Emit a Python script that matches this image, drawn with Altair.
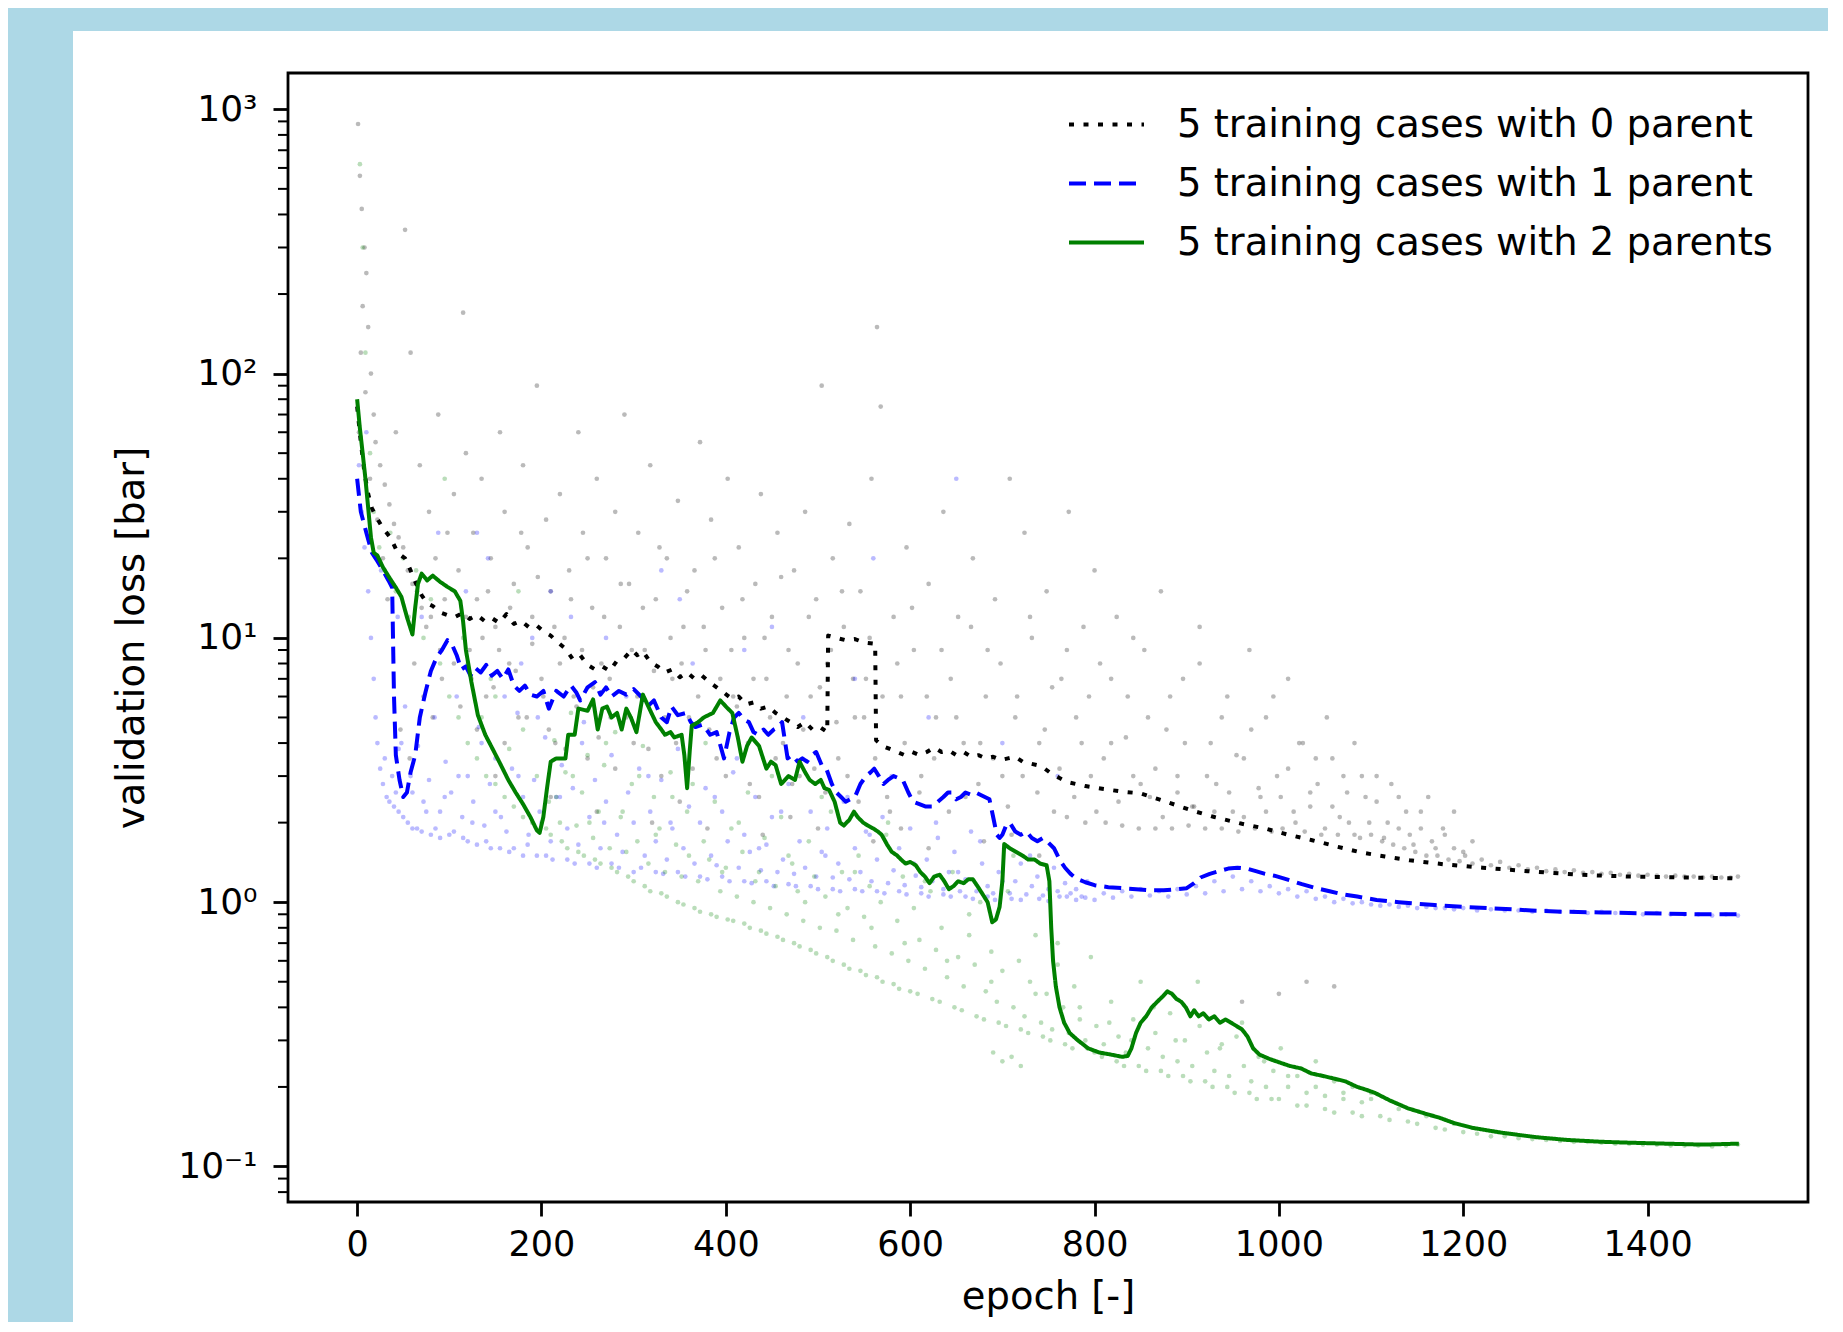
import altair as alt
import pandas as pd

S0 = "5 training cases with 0 parent"
S1 = "5 training cases with 1 parent"
S2 = "5 training cases with 2 parents"
SERIES = [S0, S1, S2]
LINE_COLORS = ["#000000", "#0000ff", "#008000"]
POINT_COLORS = ["#000000", "#0000ff", "#008000"]

X_TICKS = [0, 200, 400, 600, 800, 1000, 1200, 1400]
Y_TICKS = [0.1, 1, 10, 100, 1000]
Y_MINOR = [0.08, 0.09, 0.2, 0.3, 0.4, 0.5, 0.6, 0.7, 0.8, 0.9,
           2, 3, 4, 5, 6, 7, 8, 9, 20, 30, 40, 50, 60, 70, 80, 90,
           200, 300, 400, 500, 600, 700, 800, 900]

# ---- mean curves (epoch, validation loss) ----
line0 = [(0,75),(4,55),(8,42),(12,35),(16,31),(20,29),(28,26),(36,24),(44,21),(52,20),(58,18),(64,16),
(70,14.5),(76,13.5),(82,13.2),(90,12.5),(98,12.2),(106,12.0),(114,12.4),(122,11.8),(130,12.2),(138,11.6),
(146,11.9),(154,11.4),(162,12.3),(170,11.3),(178,11.6),(186,11.0),(194,11.2),(202,10.6),(210,10.2),(218,9.6),
(226,9.1),(234,8.3),(242,8.6),(250,7.9),(258,7.6),(266,7.8),(274,7.5),(282,8.2),(290,8.4),(298,9.0),(304,8.6),
(310,8.9),(318,8.1),(326,7.8),(334,7.4),(342,7.6),(350,7.1),(358,7.4),(366,7.0),(374,7.2),(382,6.8),(390,6.5),
(398,6.2),(406,5.9),(414,6.0),(422,5.6),(430,5.7),(438,5.4),(446,5.5),(454,5.2),(462,5.0),(470,4.8),(478,4.6),
(486,4.8),(494,4.5),(502,4.6),(510,4.4),(511,10.2),(520,10.0),(530,9.8),(540,9.9),(550,9.6),(562,9.5),(563,4.1),
(570,3.9),(578,3.8),(586,3.7),(594,3.6),(602,3.7),(610,3.6),(618,3.7),(626,3.85),(634,3.7),(642,3.75),(650,3.6),
(658,3.7),(666,3.55),(674,3.6),(682,3.5),(690,3.55),(698,3.45),(706,3.5),(714,3.55),(722,3.4),(730,3.35),
(738,3.3),(746,3.2),(754,3.05),(762,2.95),(770,2.85),(790,2.75),(810,2.68),(830,2.62),(850,2.58),(870,2.45),
(890,2.32),(906,2.22),(930,2.1),(960,1.98),(985,1.9),(1010,1.8),(1035,1.72),(1064,1.62),(1090,1.54),
(1115,1.49),(1142,1.44),(1180,1.39),(1221,1.35),(1270,1.31),(1326,1.27),(1380,1.25),(1440,1.24),(1499,1.23)]

line1 = [(0,40),(4,30),(10,25),(16,21),(22,19.5),(28,18),(34,16.5),(38,15.5),(40,6),(42,3.6),(46,2.9),(50,2.5),
(54,2.6),(58,3.1),(63,3.6),(68,5.0),(74,6.2),(80,7.5),(86,8.4),(92,9.0),(98,9.8),(102,9.6),(108,8.6),(113,7.6),
(118,7.8),(123,7.2),(128,7.7),(134,7.4),(140,7.9),(146,7.2),(152,7.5),(158,7.0),(164,7.6),(170,6.6),(176,6.3),
(182,6.6),(188,6.1),(195,6.0),(202,6.3),(208,5.4),(216,6.3),(224,6.0),(232,6.6),(238,6.2),(242,5.8),(250,6.5),
(258,6.8),(264,6.1),(270,6.5),(276,6.0),(284,6.3),(292,6.1),(300,6.4),(308,6.0),(315,5.5),(322,5.8),(330,5.0),
(336,4.8),(341,5.5),(348,5.1),(357,5.2),(362,4.8),(367,4.6),(375,4.7),(383,4.3),(390,4.4),(398,3.5),(404,4.4),
(409,5.0),(414,5.2),(420,4.9),(425,4.8),(430,4.4),(435,4.3),(441,4.5),(446,4.3),(452,4.5),(457,4.6),(461,4.8),
(467,3.5),(472,3.6),(478,3.4),(483,3.5),(488,3.4),(493,3.6),(498,3.7),(504,3.3),(509,3.2),(515,2.8),(520,2.6),
(525,2.5),(530,2.4),(535,2.45),(540,2.5),(546,2.8),(552,3.0),(557,3.1),(561,3.2),(566,3.0),(571,2.8),(576,2.9),
(582,3.0),(587,2.95),(592,2.9),(598,2.6),(603,2.4),(610,2.35),(617,2.3),(624,2.3),(630,2.4),(636,2.5),(641,2.6),
(645,2.6),(650,2.45),(655,2.5),(660,2.6),(666,2.55),(671,2.6),(676,2.55),(681,2.5),(686,2.45),(690,2.1),
(694,1.8),(697,1.75),(700,1.8),(704,1.95),(708,2.0),(714,1.85),(720,1.8),(726,1.85),(732,1.75),(738,1.7),
(744,1.75),(750,1.68),(756,1.6),(762,1.45),(768,1.35),(774,1.28),(780,1.23),(790,1.19),(800,1.16),(815,1.14),
(830,1.13),(845,1.12),(860,1.11),(875,1.11),(890,1.12),(900,1.13),(908,1.18),(915,1.24),(925,1.28),(935,1.31),
(945,1.34),(955,1.35),(965,1.34),(975,1.31),(985,1.28),(995,1.26),(1005,1.23),(1015,1.2),(1025,1.17),
(1040,1.13),(1055,1.1),(1070,1.07),(1085,1.05),(1106,1.02),(1130,1.0),(1169,0.975),(1200,0.96),(1240,0.945),
(1274,0.93),(1310,0.92),(1350,0.915),(1380,0.91),(1420,0.905),(1460,0.9),(1499,0.9)]

line2 = [(0,80),(3,62),(6,50),(9,40),(12,31),(15,24),(18,21),(22,20.5),(28,18.5),(35,16.9),(42,15.5),(48,14.3),
(54,12),(60,10.3),(63,13),(66,16),(70,17.5),(76,16.5),(82,17.2),(90,16.3),(98,15.6),(106,15.0),(112,13.8),
(115,11.5),(118,9.0),(124,6.8),(131,5.1),(139,4.3),(147,3.8),(156,3.3),(164,2.9),(172,2.6),(180,2.35),(188,2.1),
(195,1.87),(198,1.83),(202,2.1),(206,2.7),(210,3.4),(216,3.5),(226,3.5),(229,4.3),(236,4.3),(240,5.4),(250,5.3),
(256,5.85),(261,4.5),(266,5.4),(271,5.5),(276,5.0),(282,5.2),(287,4.5),(292,5.4),(297,5.0),(303,4.4),(310,6.1),
(317,5.4),(324,4.8),(330,4.5),(334,4.3),(340,4.4),(344,4.2),(352,4.3),(355,3.6),(358,2.7),(361,3.8),(363,4.65),
(370,4.8),(376,5.0),(386,5.2),(394,5.8),(400,5.5),(407,5.2),(413,4.2),(418,3.4),(423,3.9),(428,4.2),(436,3.9),
(444,3.2),(449,3.4),(454,3.3),(460,2.8),(468,3.0),(475,2.9),(480,3.4),(486,3.1),(491,2.9),(497,2.8),(503,2.9),
(507,2.7),(512,2.66),(518,2.4),(524,2.0),(528,1.95),(534,2.05),(539,2.2),(543,2.1),(549,2.0),(554,1.95),
(560,1.9),(565,1.85),(569,1.8),(575,1.65),(580,1.55),(586,1.5),(590,1.45),(595,1.4),(600,1.42),(606,1.38),
(611,1.3),(616,1.25),(621,1.18),(626,1.25),(632,1.27),(637,1.2),(642,1.12),(647,1.15),(652,1.2),(658,1.18),
(663,1.22),(668,1.22),(673,1.15),(678,1.08),(684,1.0),(689,0.84),(693,0.86),(697,0.96),(700,1.2),(702,1.66),
(708,1.6),(715,1.55),(722,1.5),(728,1.45),(735,1.45),(741,1.4),(748,1.38),(751,1.2),(753,0.8),(755,0.6),
(758,0.48),(762,0.4),(767,0.35),(773,0.32),(782,0.3),(793,0.28),(805,0.27),(818,0.265),(830,0.26),(836,0.262),
(840,0.28),(845,0.32),(850,0.35),(856,0.37),(862,0.4),(868,0.42),(874,0.44),(879,0.46),(884,0.45),(889,0.43),
(894,0.42),(899,0.4),(904,0.37),(908,0.39),(913,0.37),(918,0.38),(924,0.36),(930,0.37),(936,0.35),(942,0.36),
(948,0.35),(954,0.34),(960,0.33),(966,0.31),(972,0.28),(979,0.265),(990,0.255),(1000,0.248),(1012,0.24),
(1024,0.235),(1035,0.225),(1048,0.22),(1060,0.215),(1072,0.21),(1085,0.2),(1095,0.195),(1104,0.19),
(1120,0.178),(1140,0.166),(1160,0.158),(1174,0.153),(1190,0.146),(1210,0.14),(1243,0.134),(1280,0.129),
(1313,0.126),(1350,0.124),(1382,0.123),(1420,0.122),(1460,0.121),(1499,0.122)]

# ---- individual training-case losses (epoch, validation loss) ----
pts0 = [(1,880),(3,560),(5,420),(8,300),(10,240),(6,180),(12,150),(4,120),(15,100),(9,85),(18,70),(2,60),(20,55),
(25,45),(14,40),(30,38),(35,32),(22,28),(40,27),(45,24),(28,20),(50,22),(55,18),(60,16),(33,14),(65,15),(70,13),
(75,11),(80,12),(85,20),(90,9),(95,14),(42,60),(52,350),(58,120),(68,45),(78,30),(88,70),(98,25),(62,8),(72,6),
(82,5),(92,7),(47,4.5),(57,3.5),
(105,35),(110,18),(115,170),(118,50),(122,9),(126,25),(130,14),(135,40),(140,6),(145,20),(150,11),(155,60),
(160,30),(165,8),(170,16),(175,5),(180,45),(185,22),(190,12),(195,90),(200,7),(205,28),(210,15),(215,4),(220,35),
(225,10),(230,18),(235,6),(240,60),(245,25),(250,3.5),(255,13),(260,40),(265,8),(270,20),(275,5),(280,30),
(285,11),(290,70),(295,16),
(300,4),(305,25),(312,9),(318,45),(324,14),(330,3),(336,20),(342,7),(348,33),(354,11),(360,5),(366,18),(372,55),
(378,9),(384,28),(390,3.5),(396,13),(402,40),(408,6),(414,22),(420,10),(426,2.8),(432,16),(438,35),(444,7),
(450,12),(456,25),(462,4),(468,9),(474,18),(480,3),(486,30),(492,6),(498,14),(504,90),(510,8),(516,20),
(522,3.5),(528,11),(534,27),(540,5),(546,15),(552,7),(558,40),(564,150),(568,75),(575,2.5),(582,12),(590,6),
(596,22),
(604,9),(612,3),(620,16),(628,5),(636,30),(644,7),(652,12),(660,2.5),(668,20),(676,4),(684,9),(692,14),(700,3),
(708,40),(716,6),(724,25),(732,10),(740,4),(748,15),(756,2.2),(764,7),(772,30),(780,5),(788,11),(796,3),
(800,18),(790,2.0),(770,2.1),
(806,8),(812,2.0),(818,4),(824,12),(830,1.95),(836,6),(842,3),(848,1.9),(854,9),(860,2.5),(866,1.9),(872,15),
(878,4.5),(884,1.9),(890,3),(896,7),(902,1.95),(908,2.3),(914,11),(920,1.9),(926,4),(932,2.8),(938,1.9),(944,6),
(950,2.2),(956,1.85),(962,3.5),(968,9),(974,1.9),(980,2.5),(986,5),(992,1.85),(998,3),(1004,1.9),(1010,7),
(1016,2.2),(1022,4),(1028,1.85),(1034,2.6),(1040,3.5),(1046,1.8),(1052,5),(1058,2.3),(1064,1.8),(1070,3),
(1076,2),(1082,4),(1088,1.75),(1094,2.5),(1100,1.8),(1000,0.45),(1030,0.5),(960,0.42),(1060,0.48),
(1106,3),(1112,1.7),(1118,2),(1124,1.65),(1130,2.5),(1136,1.6),(1142,1.8),(1148,1.55),(1154,2.2),(1160,1.5),
(1166,1.7),(1172,1.5),(1178,1.9),(1184,1.45),(1190,1.6),(1196,1.43),(1202,1.5),(1210,1.4),(1220,1.45),
(1230,1.38),(1240,1.42),(1250,1.35),(1260,1.38),(1270,1.33),(1280,1.35),(1290,1.31),(1300,1.33),(1310,1.3),
(1320,1.32),(1330,1.29),(1340,1.3),(1350,1.28),(1360,1.29),(1370,1.27),(1380,1.28),(1390,1.26),(1400,1.27),
(1410,1.26),(1420,1.25),(1430,1.26),(1440,1.25),(1450,1.25),(1460,1.24),(1470,1.25),(1480,1.24),(1490,1.24),
(1498,1.25),
(105,8),(112,5.5),(118,12),(124,7),(130,4.5),(136,10),(142,15),(148,6.5),(154,9),(160,4),(166,13),(172,7.5),
(178,25),(184,5),(190,9.5),(196,17),(202,6),(208,4.5),(214,11),(220,8),(226,3.8),(232,14),(238,5.5),(244,9),
(250,20),(256,6.5),(262,4.2),(268,12),(274,7),(280,3.2),(286,16),(292,5),(298,9),(304,6),(310,13),(316,3.8),
(322,7.5),(328,22),(334,5),(340,10),(346,4),(352,8),(358,15),(364,3.2),(370,6),(376,11),(382,4.5),(388,20),
(394,7),(400,3),(406,9),(412,5.5),(418,14),(424,4),(430,7),(436,2.5),(442,10),(448,5),(454,3.5),(460,17),
(466,6),(472,2.8),(478,8),(484,4.5),(490,12),(496,3.2),(502,6.5),(508,2.6),(514,9),(520,4.8),(526,15),(532,3),
(538,7),(544,2.4),(550,5),(556,10),(562,3.5),(570,6),(578,2.2),(586,8),(594,4),(602,13),(610,2.6),(618,6),
(626,3.5),(634,9),(642,2.2),(650,5),(658,4),(666,11),(674,2.8),(682,6),(690,3.5),(698,8),(706,2.3),(714,5),
(722,3),(730,12),(738,2.6),(746,4.5),(754,6.5),(762,3.2),(770,9),(778,2.5),(786,4),(794,6),(802,2.2),(810,3.5),
(818,7),(826,2.4),(834,4.2),(842,10),(850,2.8),(858,5),(866,3.2),(874,2.1),(882,6),(890,2.6),(898,4),(906,2.3),
(914,8),(922,3),(930,2.2),(938,5),(946,2.6),(954,3.6),(962,2.1),(970,4.5),(978,2.7),(986,2.2),(994,6),(1002,2.5),
(1010,3.2),(1018,2.0),(1026,4),(1034,2.3),(1042,2.8),(1050,1.9),(1058,3.5),(1066,2.1),(1074,2.6),(1082,1.8),
(1090,3),(1098,2.0),(1106,2.4),(1114,1.75),(1122,2.8),(1130,1.9),(1138,2.2),(1146,1.65),(1154,1.9),(1162,2.5),
(1170,1.6),(1180,1.8),(1190,2.2),(1200,1.55),(1210,1.7),
(150,3),(210,2.5),(260,2.2),(320,2.0),(350,2.4),(380,1.9),(440,1.8),(470,2.1),(500,1.9),(560,1.7),(590,1.9),
(620,1.6),(680,1.7),(710,1.8),(740,1.5)]

pts1 = [(2,45),(5,30),(8,22),(12,15),(15,10),(18,7),(20,5),(22,4),(25,3.2),(28,2.8),(30,3.5),(32,2.5),(35,2.4),
(38,3),(40,2.3),(42,2.6),(45,2.2),(48,4),(50,2.1),(55,2.0),(58,3),(60,1.9),(10,60),(26,18),(44,12),
(65,1.9),(70,1.85),(75,2.2),(80,1.8),(85,1.9),(90,1.75),(95,2.5),(100,1.8),(105,1.85),(110,3),(115,1.75),
(120,1.7),(125,2),(130,1.65),(135,4),(140,1.7),(145,1.6),(150,2.2),(155,1.6),(160,6),(165,1.55),(170,1.6),
(175,3),(180,1.5),(185,1.65),(190,10),(195,1.5),(200,2),(88,25),(118,15),(142,20),(178,8),(196,5),
(205,1.5),(212,1.45),(220,2.5),(228,1.45),(236,1.4),(244,4),(252,1.4),(260,1.35),(268,2),(276,1.4),(284,1.35),
(292,6),(300,1.3),(308,1.35),(316,3),(324,1.3),(332,1.28),(340,2),(348,1.3),(356,1.25),(364,8),(372,1.25),
(380,1.22),(388,2.5),(396,1.25),(404,1.2),(412,3.5),(420,1.2),(428,1.18),(436,1.6),(444,1.2),(452,1.15),
(460,2.2),(468,1.17),(476,1.15),(484,5),(492,1.15),(500,1.12),(232,12),(330,18),(420,9),
(508,1.5),(516,1.12),(524,1.1),(532,2.5),(540,1.12),(548,1.1),(556,1.8),(564,1.1),(572,1.08),(580,3),(588,1.1),
(596,1.07),(604,1.4),(612,1.08),(620,1.05),(628,2),(636,1.07),(644,1.05),(652,1.3),(660,1.05),(668,1.03),
(676,1.7),(684,1.05),(692,1.02),(700,1.2),(710,1.03),(720,1.02),(730,1.5),(740,1.03),(750,1.01),(760,1.1),
(770,1.05),(780,1.02),(790,1.04),(800,1.02),(650,40),(560,20),
(810,1.08),(820,1.04),(830,1.1),(840,1.05),(850,1.12),(860,1.06),(870,1.1),(880,1.05),(890,1.12),(900,1.07),
(910,1.15),(920,1.08),(930,1.2),(940,1.1),(950,1.25),(960,1.12),(970,1.2),(980,1.1),(990,1.15),(1000,1.08),
(1010,1.12),(1020,1.05),(1030,1.1),(1040,1.03),(1050,1.05),(1060,1.0),(1070,1.03),(1080,0.99),(1090,1.0),
(1100,0.98),
(1110,0.97),(1120,0.98),(1130,0.96),(1140,0.97),(1150,0.95),(1160,0.96),(1170,0.95),(1180,0.95),(1190,0.94),
(1200,0.95),(1215,0.93),(1230,0.94),(1245,0.93),(1260,0.93),(1275,0.92),(1290,0.93),(1305,0.92),(1320,0.92),
(1335,0.91),(1350,0.92),(1365,0.91),(1380,0.91),(1395,0.9),(1410,0.91),(1425,0.9),(1440,0.9),(1455,0.9),
(1470,0.89),(1485,0.9),(1498,0.89),
(45,3.8),(52,5.5),(60,2.6),(66,3.9),(72,2.4),(78,2.9),(84,5.0),(90,2.2),(96,3.4),(102,2.6),(108,6.0),(114,2.1),
(120,3.0),(126,2.4),(132,4.6),(138,1.95),(144,2.8),(150,3.5),(156,2.1),(162,1.85),(168,3.2),(174,5.2),(180,2.5),
(186,1.8),(192,2.9),(198,2.2),(204,4.2),(210,1.7),(216,2.5),(222,3.3),(228,1.9),(234,2.7),(240,1.65),(246,4.8),
(252,2.1),(258,2.9),(264,1.6),(270,2.4),(276,3.6),(282,1.8),(288,1.55),(294,2.6),(300,2.0),(306,3.2),(312,1.5),
(318,2.2),(324,1.7),(330,2.9),(336,1.45),(342,1.9),(348,3.8),(354,1.6),(360,2.3),(366,1.4),(372,2.0),(378,2.7),
(384,1.5),(390,1.38),(396,2.2),(402,1.7),(408,3.1),(414,1.35),(420,1.8),(426,1.55),(432,2.5),(438,1.32),
(444,1.65),(450,2.1),(456,1.3),(462,1.45),(468,2.8),(474,1.28),(480,1.7),(486,1.35),(492,2.2),(498,1.25),
(504,1.55),(510,1.9),(516,1.24),(522,1.4),(528,2.4),(534,1.22),(540,1.6),(546,1.3),(552,1.85),(558,1.2),
(564,1.45),(570,2.1),(576,1.18),(582,1.32),(588,1.6),(594,1.16),(600,1.9),(606,1.26),(612,1.14),(618,1.45),
(624,1.2),(630,1.75),(636,1.12),(642,1.3),(648,1.55),(654,1.1),(660,1.22),(666,1.85),(672,1.1),(678,1.4),
(684,1.15),(690,1.08),(696,1.3),(702,1.6),(708,1.08),(714,1.2),(720,1.4),(726,1.07),(732,1.15),(738,1.25),
(744,1.06),(750,1.12),(756,1.35),(762,1.05),(768,1.18),(774,1.08),(780,1.12),(786,1.05),(792,1.2),
(70,12),(130,25),(210,15),(270,10),(350,14),(450,11),(540,7),(620,5),(700,4),(760,3)]

pts2 = [(3,620),(6,300),(9,120),(14,50),(18,30),(24,22),(30,18),(36,25),(42,15),(50,20),(56,12),(64,18),(72,10),
(80,14),(90,8),(100,6),(110,5),(120,4),(130,3.5),(140,3),(150,2.8),(160,2.5),(170,2.3),(180,2.1),(190,2),
(115,10),(145,7),(175,15),(95,40),
(205,1.9),(210,1.8),(216,2.5),(222,1.7),(228,1.6),(234,3),(240,1.55),(246,1.5),(252,2),(258,1.45),(264,1.4),
(270,4),(276,1.35),(282,1.3),(288,2.2),(294,1.25),(300,1.2),(306,3),(312,1.15),(318,1.1),(324,1.8),(330,1.08),
(336,1.05),(342,2.5),(348,1.0),(354,0.98),(360,1.5),(366,0.95),(372,0.92),(378,4),(384,0.9),(390,0.88),
(396,1.3),
(402,0.86),(408,0.85),(414,2),(420,0.83),(426,0.8),(432,1.2),(438,0.78),(444,0.76),(450,3),(456,0.74),
(462,0.72),(468,1.5),(474,0.7),(480,0.68),(486,1),(492,0.66),(498,0.64),(504,2.5),(510,0.62),(516,0.6),
(522,0.9),(528,0.58),(534,0.56),(540,1.3),(546,0.55),(552,0.53),(558,0.8),(564,0.52),(570,0.5),(576,2),
(582,0.49),(588,0.47),(594,0.7),
(600,0.46),(608,0.45),(616,1.2),(624,0.43),(632,0.42),(640,0.6),(648,0.4),(656,0.39),(664,0.9),(672,0.37),
(680,0.36),(688,0.5),(696,0.35),(704,0.34),(712,1.5),(720,0.33),(728,0.32),(736,0.45),(744,0.31),(752,0.3),
(760,0.7),(768,0.29),(776,0.28),(784,0.4),(792,0.28),(800,0.27),(690,0.27),(700,0.25),(710,0.26),(720,0.24),
(808,0.26),(816,0.35),(824,0.25),(832,0.24),(840,0.3),(848,0.24),(856,0.23),(864,0.4),(872,0.23),(880,0.22),
(888,0.3),(896,0.22),(904,0.21),(912,0.5),(920,0.21),(928,0.2),(936,0.28),(944,0.2),(952,0.19),(960,0.35),
(968,0.19),(976,0.18),(984,0.25),(992,0.18),(1000,0.18),(1010,0.22),(1020,0.17),(1030,0.17),(1040,0.2),
(1050,0.165),(1060,0.16),(1070,0.19),(1080,0.16),(1090,0.155),(1100,0.18),
(1110,0.155),(1120,0.15),(1130,0.165),(1140,0.148),(1150,0.145),(1160,0.155),(1170,0.14),(1180,0.138),
(1190,0.145),(1200,0.135),(1215,0.133),(1230,0.13),(1245,0.13),(1260,0.128),(1275,0.127),(1290,0.126),
(1305,0.125),(1320,0.124),(1335,0.124),(1350,0.123),(1365,0.122),(1380,0.122),(1395,0.121),(1410,0.121),
(1425,0.12),(1440,0.12),(1455,0.12),(1470,0.119),(1485,0.12),(1498,0.121),
(120,8),(135,5),(150,6),(165,3.8),(180,4.5),(195,3.0),(208,2.4),(214,4.1),(220,2.0),(226,3.1),(232,5.2),
(238,1.95),(244,2.6),(250,3.6),(256,1.75),(262,2.2),(268,3.3),(274,1.6),(280,4.4),(286,2.1),(292,1.55),(298,2.8),
(304,1.7),(310,3.9),(316,1.4),(322,2.5),(328,1.9),(334,1.3),(340,3.1),(346,1.65),(352,1.25),(358,2.2),(364,2.8),
(370,1.2),(376,1.7),(382,1.45),(388,2.4),(394,1.1),(400,1.35),(406,1.9),(412,1.05),(418,1.55),(424,2.6),
(430,1.0),(436,1.3),(442,1.75),(448,0.95),(454,1.15),(460,2.1),(466,0.9),(472,1.4),(478,1.1),(484,0.85),
(490,1.7),(496,1.25),(502,0.8),(508,1.05),(514,2.2),(520,0.78),(526,1.3),(532,0.95),(538,0.72),(544,1.5),
(550,0.88),(556,1.15),(562,0.68),(568,1.0),(574,1.8),(580,0.64),(586,0.85),(592,1.25),(598,0.6),(604,0.95),
(610,0.72),(616,0.56),(622,1.1),(628,0.66),(634,0.8),(640,0.52),(646,1.3),(652,0.62),(658,0.48),(664,0.75),
(670,0.58),(676,1.0),(682,0.46),(688,0.65),(694,0.42),(700,0.55),(706,1.1),(712,0.4),(718,0.6),(724,0.37),
(730,0.5),(736,0.75),(742,0.35),(748,0.45),(754,0.33),(760,0.58),(766,0.4),(772,0.32),(778,0.48),(784,0.36),
(790,0.3),(796,0.62),(802,0.34),(810,0.29),(818,0.42),(826,0.31),(834,0.27),(842,0.36),(850,0.5),(858,0.28),
(866,0.32),(874,0.26),(882,0.38),(890,0.25),(898,0.3),(906,0.24),(914,0.34),(922,0.27),(930,0.23),(938,0.29),
(946,0.22),(954,0.31),(962,0.24),(970,0.21),(978,0.26),(986,0.2),(994,0.23),(1002,0.28),(1010,0.2),(1020,0.22),
(1030,0.19),(1040,0.25),(1050,0.185),(1060,0.21),(1070,0.18),(1080,0.2),(1090,0.175),(1100,0.19)]


def frame(pairs, name):
    df = pd.DataFrame(pairs, columns=["epoch", "loss"])
    df["series"] = name
    return df


W, H = 1520, 1129
FONT = "DejaVu Sans"
TXT = 38.5

xscale = alt.Scale(domain=[-75, 1574], nice=False, zero=False)
yscale = alt.Scale(type="log", domain=[0.07339, 1372], nice=False)

label_expr = ("datum.value >= 999 ? '10³' : datum.value >= 99 ? '10²' : "
              "datum.value >= 9 ? '10¹' : datum.value >= 0.9 ? '10⁰' : '10⁻¹'")

xaxis = alt.Axis(values=X_TICKS, format="d", title="epoch [-]", titleFontSize=TXT,
                 titleFontWeight="normal", titleColor="black", titleFont=FONT,
                 titleBaseline="alphabetic", titleY=106,
                 labelFontSize=35, labelColor="black", labelFont=FONT, labelPadding=11,
                 labelFlush=False, labelOverlap=False,
                 tickSize=14, tickWidth=2.8, tickColor="black", domain=False, grid=False, zindex=1)
yaxis = alt.Axis(values=Y_TICKS, labelExpr=label_expr, title="validation loss [bar]",
                 titleFontSize=TXT, titleFontWeight="normal", titleColor="black", titleFont=FONT,
                 titleX=-145, titleY=H / 2, titleBaseline="alphabetic", titleAngle=270,
                 labelFontSize=36, labelColor="black", labelFont=FONT, labelPadding=16,
                 labelFlush=False, labelOverlap=False,
                 tickSize=15, tickWidth=2.8, tickColor="black", domain=False, grid=False, zindex=1)

X = alt.X("epoch:Q", scale=xscale, axis=xaxis)
Y = alt.Y("loss:Q", scale=yscale, axis=yaxis)

dummy = pd.DataFrame({"d": [0]})
band_top = alt.Chart(dummy).mark_rect(color="#add8e6").encode(
    x=alt.value(-290), x2=alt.value(W + 20), y=alt.value(-75), y2=alt.value(-42))
band_left = alt.Chart(dummy).mark_rect(color="#add8e6").encode(
    x=alt.value(-290), x2=alt.value(-215), y=alt.value(-75), y2=alt.value(H + 120))

point_layers = []
for pairs, name, col in zip([pts0, pts1, pts2], SERIES, POINT_COLORS):
    point_layers.append(
        alt.Chart(frame(pairs, name)).mark_circle(size=22, opacity=0.27, color=col).encode(x=X, y=Y)
    )

minor = alt.Chart(pd.DataFrame({"loss": Y_MINOR})).mark_rule(color="black", strokeWidth=2).encode(
    y=Y, x=alt.value(0), x2=alt.value(-10))

lines_df = pd.concat([frame(line0, S0), frame(line1, S1), frame(line2, S2)], ignore_index=True)
legend = alt.Legend(title=None, orient="none", legendX=779, legendY=12, labelFontSize=TXT,
                    labelFont=FONT, labelColor="black", symbolType="stroke", symbolSize=5625,
                    symbolStrokeWidth=4, labelOffset=31, rowPadding=0, labelLimit=0, padding=0)
lines = alt.Chart(lines_df).mark_line(strokeWidth=4, strokeJoin="round", clip=True).encode(
    x=X, y=Y,
    color=alt.Color("series:N", scale=alt.Scale(domain=SERIES, range=LINE_COLORS), legend=legend),
    strokeDash=alt.StrokeDash("series:N",
                              scale=alt.Scale(domain=SERIES, range=[[5, 9.5], [17, 8], [1, 0]]),
                              legend=legend),
)

chart = alt.layer(band_top, band_left, *point_layers, minor, lines).properties(
    width=W, height=H,
    autosize=alt.AutoSizeParams(type="none"),
    padding={"left": 280, "top": 65, "right": 20, "bottom": 120},
    background="white",
).configure(font=FONT).configure_view(stroke="black", strokeWidth=2.8)

chart.save("out.html", embed_options={"renderer": "svg", "actions": False})
